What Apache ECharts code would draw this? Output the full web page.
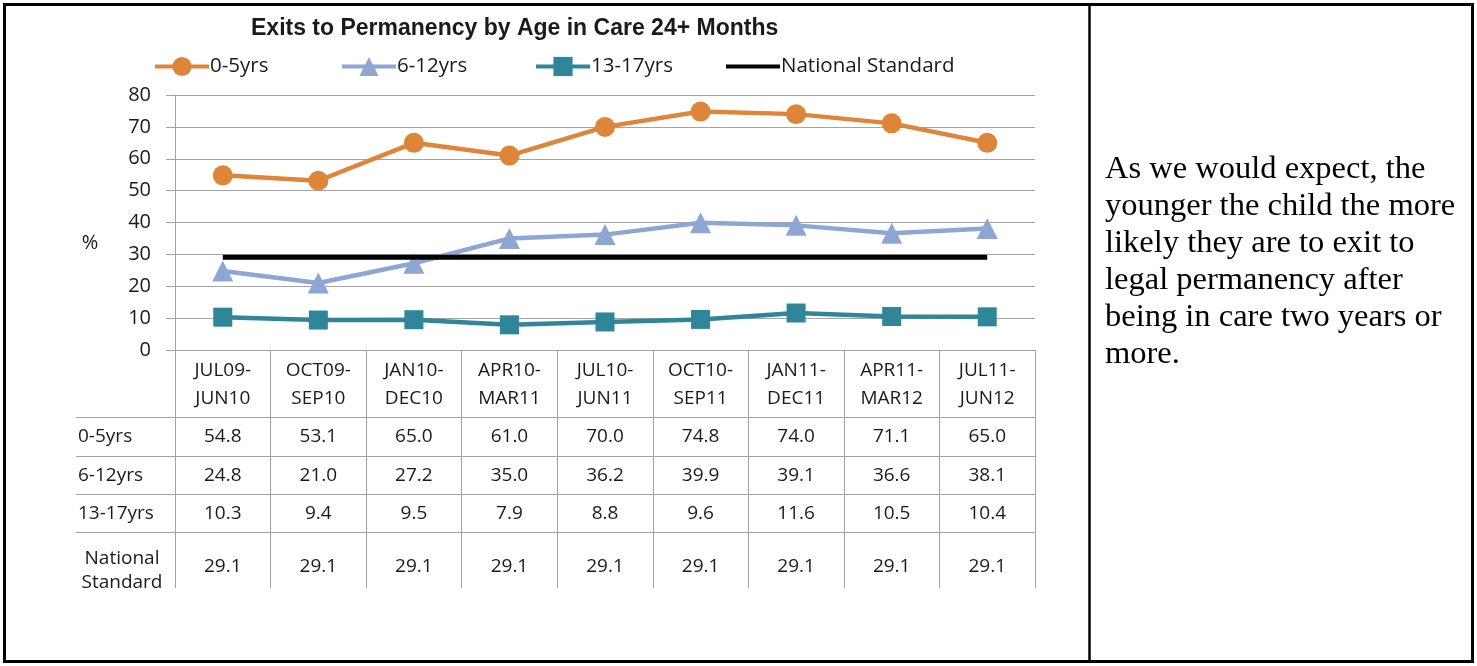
<!DOCTYPE html>
<html>
<head>
<meta charset="utf-8">
<script src="https://cdn.jsdelivr.net/npm/echarts@6/dist/echarts.min.js"></script>
<style>
  html, body { margin: 0; padding: 0; background: #fff; }
  #chart { width: 1477px; height: 666px; }
</style>
</head>
<body>
<div id="chart"></div>
<script>
const categories = ['JUL09-\nJUN10', 'OCT09-\nSEP10', 'JAN10-\nDEC10', 'APR10-\nMAR11', 'JUL10-\nJUN11',
  'OCT10-\nSEP11', 'JAN11-\nDEC11', 'APR11-\nMAR12', 'JUL11-\nJUN12'];
const age0to5 = [54.8, 53.1, 65.0, 61.0, 70.0, 74.8, 74.0, 71.1, 65.0];
const age6to12 = [24.8, 21.0, 27.2, 35.0, 36.2, 39.9, 39.1, 36.6, 38.1];
const age13to17 = [10.3, 9.4, 9.5, 7.9, 8.8, 9.6, 11.6, 10.5, 10.4];
const nationalStd = [29.1, 29.1, 29.1, 29.1, 29.1, 29.1, 29.1, 29.1, 29.1];
const seriesNames = ['0-5yrs', '6-12yrs', '13-17yrs', 'National Standard'];
const yTicks = [0, 10, 20, 30, 40, 50, 60, 70, 80];

const FONT = '"Open Sans", "Liberation Sans", sans-serif';
const GRID_LINE = '#a3a3a3';

const chart = echarts.init(document.getElementById('chart'));

// one extra x axis per table row, its labels are the row's values
const tableRows = [
  { data: age0to5, offset: 87 },
  { data: age6to12, offset: 126 },
  { data: age13to17, offset: 164 },
  { data: nationalStd, offset: 217 },
];
const tableAxes = tableRows.map((row) => ({
  type: 'category',
  data: categories,
  position: 'bottom',
  offset: row.offset,
  axisLine: { show: false },
  axisTick: { show: false },
  splitLine: { show: false },
  axisLabel: {
    interval: 0,
    margin: 0,
    verticalAlign: 'middle',
    color: '#1a1a1a',
    fontFamily: FONT,
    fontSize: 19,
    formatter: (v, i) => row.data[i].toFixed(1),
  },
}));

const hLines = [417, 456, 494, 532].map((y) => ({
  type: 'line',
  shape: { x1: 76, y1: y + 0.5, x2: 1035, y2: y + 0.5 },
  style: { stroke: GRID_LINE, lineWidth: 1 },
}));

const rowLabel = (text, y) => ({
  type: 'text',
  style: { text: text, x: 78, y: y, font: '19px ' + FONT, fill: '#1a1a1a', verticalAlign: 'middle' },
});

// Excel spaces the legend entries on its own, so one legend per entry
const legendLeft = [153, 340, 534, 724];
const legends = seriesNames.map((name, i) => ({
  data: [i === 3 ? { name: name, itemStyle: { opacity: 0 } } : name],
  left: legendLeft[i],
  top: 56,
  padding: 0,
  itemWidth: 54,
  itemHeight: 24,
  lineStyle: { width: 4 },
  textStyle: { fontFamily: FONT, fontSize: 20.5, color: '#1a1a1a', padding: [0, 0, 0, -4] },
}));

const option = {
  animation: false,
  title: {
    text: 'Exits to Permanency by Age in Care 24+ Months',
    left: 246,
    top: 12,
    textStyle: { fontFamily: '"Liberation Sans", Arial, sans-serif', fontSize: 23, fontWeight: 'bold', color: '#1a1a1a' },
  },
  legend: legends,
  grid: { left: 175, right: 442, top: 95, bottom: 316 },
  xAxis: [
    {
      type: 'category',
      data: categories,
      boundaryGap: true,
      axisLine: { lineStyle: { color: GRID_LINE, width: 1 } },
      axisTick: { show: true, length: 238, interval: 0, lineStyle: { color: GRID_LINE, width: 1 } },
      axisLabel: {
        interval: 0,
        margin: 7,
        lineHeight: 28,
        color: '#1a1a1a',
        fontFamily: FONT,
        fontSize: 19,
      },
    },
  ].concat(tableAxes),
  yAxis: {
    type: 'value',
    min: yTicks[0],
    max: yTicks[yTicks.length - 1],
    interval: 10,
    axisLine: { show: true, lineStyle: { color: GRID_LINE, width: 1 } },
    axisTick: { show: true, length: 9, lineStyle: { color: GRID_LINE } },
    splitLine: { lineStyle: { color: GRID_LINE, width: 1 } },
    axisLabel: { margin: 24, color: '#1a1a1a', fontFamily: FONT, fontSize: 20 },
  },
  series: [
    {
      name: seriesNames[0],
      type: 'line',
      data: age0to5,
      symbol: 'circle',
      symbolSize: 20,
      color: '#de8539',
      lineStyle: { width: 4.5 },
      z: 4,
    },
    {
      name: seriesNames[1],
      type: 'line',
      data: age6to12,
      symbol: 'triangle',
      symbolSize: 21,
      color: '#8ea6d3',
      lineStyle: { width: 4.5 },
      z: 2,
    },
    {
      name: seriesNames[2],
      type: 'line',
      data: age13to17,
      symbol: 'rect',
      symbolSize: 19,
      color: '#2f8599',
      lineStyle: { width: 4.5 },
      z: 4,
    },
    {
      name: seriesNames[3],
      type: 'line',
      data: nationalStd,
      symbol: 'none',
      color: '#000000',
      lineStyle: { width: 5 },
      z: 3,
    },
  ],
  graphic: [
    {
      type: 'rect',
      shape: { x: 4.5, y: 4.5, width: 1468, height: 657 },
      style: { fill: 'none', stroke: '#000', lineWidth: 3 },
      z: 100,
    },
    {
      type: 'line',
      shape: { x1: 1089.5, y1: 4, x2: 1089.5, y2: 662 },
      style: { stroke: '#000', lineWidth: 2.5 },
      z: 100,
    },
    {
      type: 'text',
      style: { text: '%', x: 90, y: 243, font: '20px ' + FONT, fill: '#1a1a1a', align: 'center', verticalAlign: 'middle' },
    },
    rowLabel('0-5yrs', 437),
    rowLabel('6-12yrs', 476),
    rowLabel('13-17yrs', 514),
    {
      type: 'text',
      style: {
        text: 'National\nStandard', x: 122, y: 571, font: '19px ' + FONT, lineHeight: 24,
        fill: '#1a1a1a', align: 'center', verticalAlign: 'middle',
      },
    },
    {
      // clip the table bottom like the pasted picture
      type: 'rect',
      shape: { x: 60, y: 588, width: 990, height: 20 },
      style: { fill: '#fff' },
      z: 50,
    },
    {
      type: 'text',
      style: {
        text: 'As we would expect, the\nyounger the child the more\nlikely they are to exit to\nlegal permanency after\nbeing in care two years or\nmore.',
        x: 1105, y: 151, font: '32.5px "Liberation Serif", "Times New Roman", serif', lineHeight: 37,
        fill: '#000', verticalAlign: 'top',
      },
    },
  ].concat(hLines),
};

chart.setOption(option);
</script>
</body>
</html>
